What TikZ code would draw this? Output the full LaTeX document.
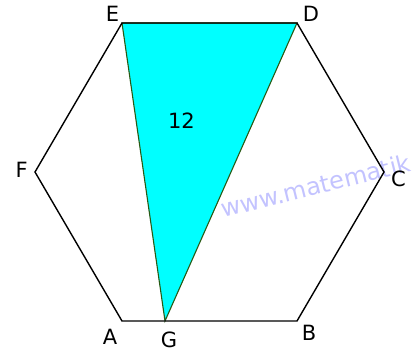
\documentclass[tikz,border=0pt]{standalone}
\usepackage{fontspec}
\setmainfont{DejaVu Sans}
\definecolor{aqua}{RGB}{0,255,255}
\definecolor{triedge}{RGB}{40,90,20}
\definecolor{wmblue}{RGB}{195,195,255}
\begin{document}
\begin{tikzpicture}[x=1pt,y=-1pt,
  lbl/.style={font=\fontsize{21}{24}\selectfont, inner sep=0pt},
  hexline/.style={draw=black, line width=1.4pt, line join=miter},
  triline/.style={draw=triedge, line width=1.1pt, fill=aqua}]
\useasboundingbox (0,0) rectangle (413,360);
\begin{scope}
\clip (0,0) rectangle (413,360);
\node[font=\fontsize{24}{28}\selectfont, text=wmblue, rotate=14, anchor=base west, inner sep=0pt] (wm) at (223,218) {www.matematik};
\end{scope}
\coordinate (E) at (122,23);
\coordinate (D) at (297,23);
\coordinate (C) at (384,172);
\coordinate (B) at (297,321);
\coordinate (A) at (122,321);
\coordinate (F) at (35,172);
\coordinate (G) at (165,321);
\filldraw[triline] (E) -- (D) -- (G) -- cycle;
\draw[hexline] (E) -- (D) -- (C) -- (B) -- (A) -- (F) -- cycle;
\node[lbl] (lE) at (112.5,14) {E};
\node[lbl] (lD) at (311,14) {D};
\node[lbl] (lC) at (398.5,179) {C};
\node[lbl] (lB) at (309,333) {B};
\node[lbl] (lA) at (110,336.5) {A};
\node[lbl] (lF) at (21.7,170) {F};
\node[lbl] (lG) at (169,340) {G};
\node[lbl] (l12) at (181.5,120.5) {12};
\end{tikzpicture}
\end{document}
